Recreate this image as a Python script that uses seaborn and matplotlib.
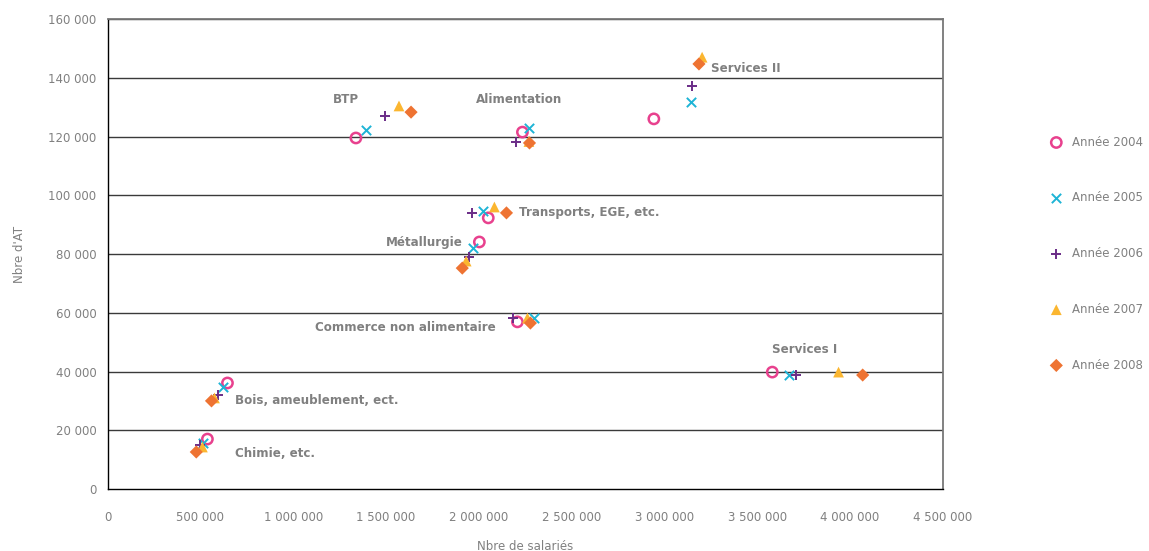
import numpy as np
import pandas as pd
import matplotlib
matplotlib.use("Agg")
import matplotlib.pyplot as plt
import seaborn as sns

sectors = ["Chimie", "Bois", "BTP", "Alimentation", "Transports",
           "Métallurgie", "Commerce", "Services II", "Services I"]
years = ["Année 2004", "Année 2005", "Année 2006", "Année 2007", "Année 2008"]

salaries_2004 = [538000, 646000, 1338000, 2235000, 2051000, 2003000, 2208000, 2943000, 3581000]
salaries_2005 = [516000, 624000, 1392000, 2268000, 2024000, 1970000, 2295000, 3143000, 3673000]
salaries_2006 = [500000, 597000, 1495000, 2203000, 1965000, 1949000, 2186000, 3149000, 3711000]
salaries_2007 = [511000, 576000, 1570000, 2270000, 2084000, 1932000, 2262000, 3203000, 3938000]
salaries_2008 = [478000, 560000, 1635000, 2273000, 2149000, 1911000, 2278000, 3186000, 4068000]

at_2004 = [17000, 36100, 119500, 121500, 92300, 84100, 56900, 126000, 39800]
at_2005 = [15700, 34700, 122200, 122900, 94600, 82000, 58200, 131700, 38800]
at_2006 = [15000, 32000, 127000, 118100, 94000, 79000, 58200, 137200, 38800]
at_2007 = [14300, 31000, 130400, 118300, 96000, 77600, 58200, 147000, 39800]
at_2008 = [12600, 30000, 128300, 117800, 94000, 75200, 56500, 144700, 38800]

labels = ["BTP", "Alimentation", "Services II", "Transports, EGE, etc.", "Métallurgie",
          "Commerce non alimentaire", "Services I", "Bois, ameublement, ect.", "Chimie, etc."]
label_x = [1215000, 2219000, 3250000, 2215000, 1500000, 1117000, 3577000, 685000, 685000]
label_y = [132500, 132500, 143000, 94000, 84000, 55000, 47500, 30000, 12000]
label_ha = ["left", "center", "left", "left", "left", "left", "left", "left", "left"]

xs = [salaries_2004, salaries_2005, salaries_2006, salaries_2007, salaries_2008]
ys = [at_2004, at_2005, at_2006, at_2007, at_2008]
rows = []
for yr, xv, yv in zip(years, xs, ys):
    for s, a, b in zip(sectors, xv, yv):
        rows.append({"Année": yr, "Secteur": s, "Salariés": a, "AT": b})
df = pd.DataFrame(rows)

sns.set_theme(style="white")
plt.rcParams['font.family'] = ['DejaVu Sans']

colors = {"Année 2004": "#E8418E", "Année 2005": "#1EB4D6", "Année 2006": "#6A2C87",
          "Année 2007": "#FBB630", "Année 2008": "#EE7332"}
markers = {"Année 2004": "o", "Année 2005": "x", "Année 2006": "+",
           "Année 2007": "^", "Année 2008": "D"}

fig = plt.figure(figsize=(11.49, 5.51), dpi=100)
ax = fig.add_axes([0.0936, 0.1125, 0.727, 0.853])

for yr in years:
    sub = df[df["Année"] == yr]
    m = markers[yr]
    if m == "o":
        kw = dict(facecolors="none", edgecolors=colors[yr], linewidths=1.8, s=55)
    elif m in ("x", "+"):
        kw = dict(color=colors[yr], linewidths=1.4, s=45)
    elif m == "D":
        kw = dict(color=colors[yr], edgecolor="none", s=45)
    else:
        kw = dict(color=colors[yr], edgecolor="none", s=60)
    sns.scatterplot(data=sub, x="Salariés", y="AT", marker=m, ax=ax, label=yr, zorder=3, **kw)

ax.set_xlim(0, 4500000)
ax.set_ylim(0, 160000)
ax.set_xticks(np.arange(0, 4500001, 500000))
ax.set_yticks(np.arange(0, 160001, 20000))

def fmt(v):
    return f"{int(v):,}".replace(",", " ")

ax.set_xticklabels([fmt(v) for v in np.arange(0, 4500001, 500000)])
ax.set_yticklabels([fmt(v) for v in np.arange(0, 160001, 20000)])
ax.tick_params(axis="x", direction="in", length=4, colors="black", labelcolor="#808080",
               labelsize=8.5, pad=16)
ax.tick_params(axis="y", direction="out", length=5, colors="black", labelcolor="#808080",
               labelsize=8.5, pad=3)

for yv in np.arange(20000, 160001, 20000):
    ax.axhline(yv, color="#3a3a3a", lw=1.0, zorder=1)

for side in ["left", "bottom"]:
    ax.spines[side].set_color("black")
    ax.spines[side].set_linewidth(1.0)
for side in ["right", "top"]:
    ax.spines[side].set_color("#777777")
    ax.spines[side].set_linewidth(1.3)
    ax.spines[side].set_visible(True)

ax.set_xlabel("Nbre de salariés", color="#808080", fontsize=8.5, labelpad=11)
ax.set_ylabel("Nbre d'AT", color="#808080", fontsize=8.5, labelpad=16)

for t, x, y, ha in zip(labels, label_x, label_y, label_ha):
    ax.text(x, y, t, ha=ha, va="center", fontsize=8.6, fontweight="bold", color="#808080", zorder=4)

leg = ax.legend(loc="upper left", bbox_to_anchor=(1.116, 0.762), frameon=False,
                labelspacing=3.62, handletextpad=0.3, fontsize=8.5, borderaxespad=0)
for txt in leg.get_texts():
    txt.set_color("#808080")

fig.savefig("out.png", dpi=100)
